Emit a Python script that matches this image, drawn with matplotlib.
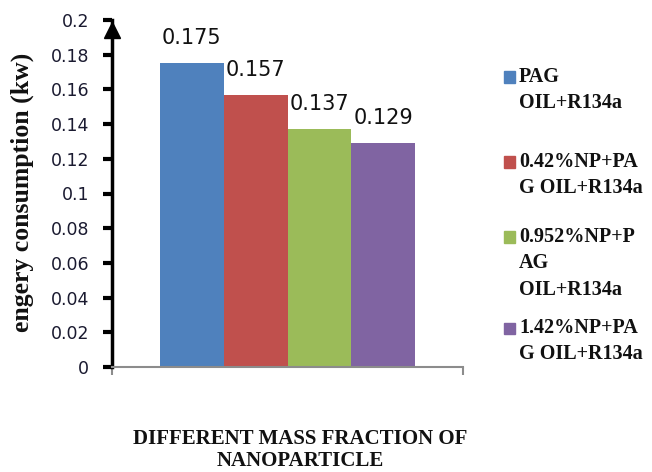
import numpy as np
import matplotlib
matplotlib.use("Agg")
import matplotlib.pyplot as plt
from matplotlib.patches import Rectangle

# energy consumption for each oil / nanoparticle mix
series = ["PAG\nOIL+R134a", "0.42%NP+PA\nG OIL+R134a",
          "0.952%NP+P\nAG\nOIL+R134a", "1.42%NP+PA\nG OIL+R134a"]
values = [0.175, 0.157, 0.137, 0.129]
colors = ["#4F81BD", "#C0504D", "#9BBB59", "#8064A2"]
yticks = [0, 0.02, 0.04, 0.06, 0.08, 0.1, 0.12, 0.14, 0.16, 0.18, 0.2]
ytick_labels = ["0", "0.02", "0.04", "0.06", "0.08", "0.1",
                "0.12", "0.14", "0.16", "0.18", "0.2"]

W, H = 652, 472
fig = plt.figure(figsize=(W / 100, H / 100), dpi=100)
ax = fig.add_axes([112 / W, (H - 367) / H, 351 / W, 347 / H])

bw = 0.1823
for i, (v, c) in enumerate(zip(values, colors)):
    x = (i - 1.5) * bw
    ax.bar(x, v, width=bw, color=c, zorder=2)
    ax.annotate(f"{v:.3f}", (x, v), xytext=(0, 18), textcoords="offset points",
                ha="center", va="center", fontsize=15, family="DejaVu Sans",
                color="#111111")

ax.set_xlim(-0.5, 0.5)
ax.set_ylim(0, 0.2)
ax.set_yticks(yticks)
ax.set_yticklabels(ytick_labels, family="DejaVu Sans", fontsize=12.5,
                   color="#1a1a30")
ax.set_xticks([-0.5, 0.5])
ax.set_xticklabels([])
ax.tick_params(axis="y", direction="out", length=6.5, width=3, color="black", pad=10)
ax.tick_params(axis="x", direction="out", length=6, width=1.5, color="#8c8c8c")

for s in ["top", "right"]:
    ax.spines[s].set_visible(False)
ax.spines["left"].set_linewidth(2.5)
ax.spines["left"].set_color("black")
ax.spines["bottom"].set_linewidth(1.5)
ax.spines["bottom"].set_color("#8c8c8c")

# arrow head on the value axis
ax.plot([-0.5], [0.1943], marker="^", markersize=11, color="black",
        clip_on=False, zorder=5, transform=ax.transData)

fig.text(22 / W, 1 - 192 / H, "engery consumption (kw)", rotation=90,
         ha="center", va="center", family="Liberation Serif",
         fontweight="bold", fontsize=18.5, color="#111111")
fig.text(300 / W, 1 - 450 / H, "DIFFERENT MASS FRACTION OF\nNANOPARTICLE",
         ha="center", va="center", family="Liberation Serif",
         fontweight="bold", fontsize=15, linespacing=1.12, color="#111111")

# legend entries down the right side
entry_y = [77, 162, 237, 328]
for lab, c, yy in zip(series, colors, entry_y):
    fig.patches.append(Rectangle((504 / W, 1 - (yy + 5.5) / H), 11 / W, 11 / H,
                                 transform=fig.transFigure, color=c))
    fig.text(519 / W, 1 - (yy - 10) / H, lab, ha="left", va="top",
             family="Liberation Serif", fontweight="bold", fontsize=14.5,
             linespacing=1.42, color="#111111")

fig.savefig("out.png", dpi=100)
